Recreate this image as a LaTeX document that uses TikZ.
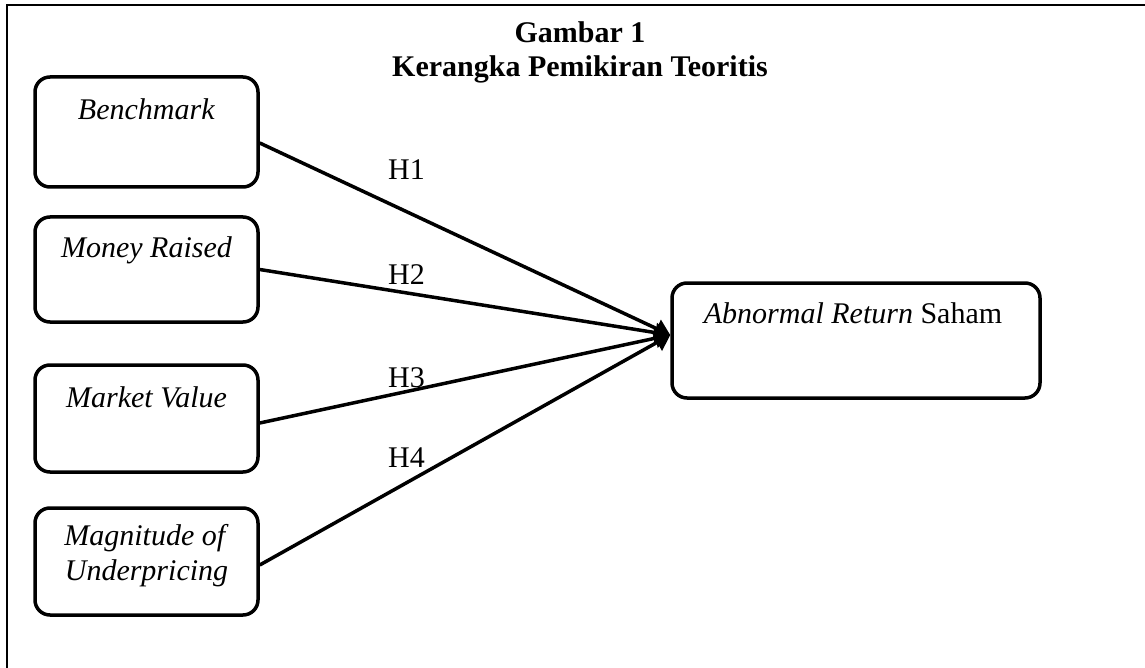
\documentclass[tikz,border=0pt]{standalone}
\usepackage{fontspec}
\setmainfont{Liberation Serif}
\usetikzlibrary{arrows.meta}
\begin{document}
\begin{tikzpicture}[x=1pt,y=-1pt,
  box/.style={draw, line width=3.5pt, rounded corners=15pt, minimum width=223pt, inner sep=0pt},
  txt/.style={font=\fontsize{30}{35}\selectfont, inner sep=0pt},
  conn/.style={line width=3.5pt, -{Triangle[length=15pt,width=19pt]}}]
\useasboundingbox (0,0) rectangle (1145,668);
\draw[line width=1.5pt] (1145,5) -- (7,5) -- (7,668);
% title
\node[txt, font=\fontsize{30}{35}\selectfont\bfseries, anchor=base] (title1) at (580,43) {Gambar 1};
\node[txt, font=\fontsize{30}{35}\selectfont\bfseries, anchor=base] (title2) at (580,77) {Kerangka Pemikiran Teoritis};
% boxes
\node[box, minimum height=110pt] (b1) at (146.5,132) {};
\node[box, minimum height=105pt] (b2) at (146.5,269.5) {};
\node[box, minimum height=107pt] (b3) at (146.5,418.5) {};
\node[box, minimum height=107pt] (b4) at (146.5,561.5) {};
\node[box, minimum width=368pt, minimum height=115pt] (tgt) at (856,340.5) {};
% texts
\node[txt, anchor=base] (l1) at (146.5,120) {\textit{Benchmark}};
\node[txt, anchor=base] (l2) at (146.5,258) {\textit{Money Raised}};
\node[txt, anchor=base] (l3) at (146.5,407) {\textit{Market Value}};
\node[txt, anchor=base] (l4a) at (146.5,545) {\textit{Magnitude of}};
\node[txt, anchor=base] (l4b) at (146.5,580) {\textit{Underpricing}};
\node[txt, anchor=base] (lt) at (853,323) {\textit{Abnormal Return} Saham};
% connectors
\coordinate (tip) at ([yshift=5.5pt]tgt.west);
\draw[conn] ([yshift=-11pt]b1.east) -- (tip);
\draw[conn] (b2.east) -- (tip);
\draw[conn] ([yshift=-4.5pt]b3.east) -- (tip);
\draw[conn] ([yshift=-3.5pt]b4.east) -- (tip);
% labels
\node[txt, anchor=base west] (h1) at (388,180) {H1};
\node[txt, anchor=base west] (h2) at (388,284) {H2};
\node[txt, anchor=base west] (h3) at (388,387) {H3};
\node[txt, anchor=base west] (h4) at (388,467) {H4};
\end{tikzpicture}
\end{document}
